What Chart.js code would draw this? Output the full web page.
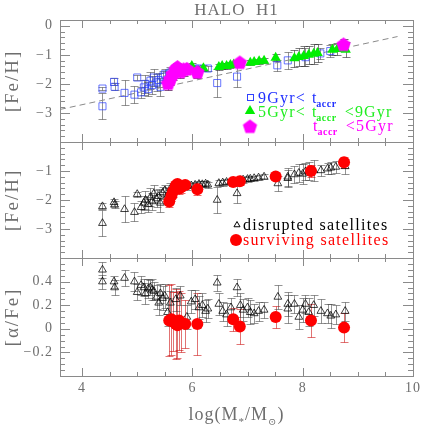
<!DOCTYPE html>
<html>
<head>
<meta charset="utf-8">
<script src="https://cdn.jsdelivr.net/npm/chart.js@4.4.1/dist/chart.umd.min.js"></script>
<style>
html, body { margin: 0; padding: 0; background: #fff; }
#wrap { position: relative; width: 436px; height: 436px; }
#wrap canvas { position: absolute; left: 0; top: 0; }
</style>
</head>
<body>
<div id="wrap">
    <canvas id="feh-age" width="436" height="436"></canvas>
    <canvas id="feh-type" width="436" height="436"></canvas>
    <canvas id="alpha-type" width="436" height="436"></canvas>
</div>
<script>
// ---- data ----
// panel 1: [Fe/H] vs log(M*/Msun), coloured by accretion time
const oldMass = [4.37, 4.37, 4.58, 4.59, 4.77, 4.95, 5.00, 5.07, 5.12, 5.15, 5.20, 5.24, 5.27, 5.30, 5.35, 5.39, 5.42, 5.46, 5.50, 5.55, 5.60, 5.80, 5.98, 6.05, 6.12, 6.28, 6.45, 6.81, 7.54, 7.73, 8.05, 8.32, 8.50];
const oldFeh = [-2.16, -2.77, -1.93, -2.10, -2.31, -2.37, -1.78, -2.29, -2.12, -2.00, -2.18, -1.89, -2.04, -1.78, -1.95, -1.87, -2.10, -1.75, -1.67, -1.85, -1.61, -1.55, -1.50, -1.48, -1.47, -1.47, -1.97, -1.75, -1.36, -1.19, -1.08, -0.95, -0.87];
const oldFehErr = [0.05, 0.45, 0.12, 0.12, 0.43, 0.30, 0.08, 0.20, 0.25, 0.30, 0.25, 0.30, 0.30, 0.30, 0.30, 0.25, 0.30, 0.20, 0.20, 0.25, 0.20, 0.15, 0.10, 0.10, 0.10, 0.10, 0.47, 0.35, 0.20, 0.30, 0.30, 0.20, 0.20];

const midMass = [5.63, 5.75, 5.99, 6.20, 6.48, 6.54, 6.62, 6.69, 6.75, 7.05, 7.12, 7.21, 7.30, 7.51, 7.85, 7.93, 8.02, 8.11, 8.20, 8.27, 8.54, 8.63, 8.78];
const midFeh = [-1.61, -1.48, -1.38, -1.46, -1.42, -1.38, -1.38, -1.35, -1.33, -1.27, -1.25, -1.22, -1.20, -1.10, -1.12, -1.07, -1.04, -1.00, -0.96, -0.94, -0.82, -0.80, -0.82];
const midFehErr = [0.15, 0.12, 0.10, 0.10, 0.10, 0.10, 0.10, 0.10, 0.10, 0.08, 0.08, 0.08, 0.08, 0.12, 0.30, 0.30, 0.35, 0.30, 0.35, 0.30, 0.20, 0.20, 0.25];

const youngMass = [5.56, 5.60, 5.64, 5.70, 5.73, 5.78, 5.84, 5.90, 6.09, 6.86, 8.74];
const youngFeh = [-2.00, -1.85, -1.68, -1.50, -1.44, -1.60, -1.52, -1.50, -1.61, -1.28, -0.66];
const youngFehErr = [0.20, 0.20, 0.20, 0.15, 0.15, 0.20, 0.20, 0.15, 0.20, 0.12, 0.20];

// dashed relation in panel 1
const fitMass = [3.6, 9.72];
const fitFeh = [-2.88, -0.37];

// panels 2 and 3: disrupted vs surviving satellites
const disruptedMass = [4.37, 4.37, 4.58, 4.59, 4.77, 4.95, 5.00, 5.07, 5.12, 5.15, 5.20, 5.24, 5.27, 5.30, 5.35, 5.39, 5.42, 5.46, 5.50, 5.55, 5.60, 5.70, 5.78, 5.90, 5.98, 6.05, 6.12, 6.18, 6.24, 6.28, 6.45, 6.48, 6.55, 6.62, 6.70, 6.81, 6.87, 6.92, 7.00, 7.05, 7.12, 7.20, 7.30, 7.55, 7.73, 7.73, 7.85, 7.93, 8.00, 8.05, 8.11, 8.20, 8.33, 8.45, 8.51, 8.60, 8.77];
const disruptedFeh = [-2.22, -2.80, -2.08, -2.17, -2.32, -2.42, -1.80, -2.25, -2.10, -2.00, -2.15, -1.90, -2.05, -1.78, -1.95, -1.87, -2.10, -1.75, -1.67, -1.85, -1.61, -1.50, -1.55, -1.52, -1.50, -1.48, -1.45, -1.46, -1.44, -1.47, -2.00, -1.42, -1.40, -1.38, -1.36, -1.77, -1.32, -1.30, -1.28, -1.27, -1.25, -1.23, -1.20, -1.43, -1.20, -1.25, -1.12, -1.07, -1.10, -1.02, -1.00, -0.98, -0.98, -0.92, -0.89, -0.86, -0.84];
const disruptedFehErr = [0.10, 0.45, 0.12, 0.12, 0.45, 0.30, 0.08, 0.20, 0.25, 0.30, 0.25, 0.30, 0.30, 0.30, 0.30, 0.25, 0.30, 0.20, 0.20, 0.25, 0.20, 0.15, 0.15, 0.12, 0.10, 0.10, 0.10, 0.10, 0.10, 0.10, 0.45, 0.10, 0.10, 0.10, 0.10, 0.35, 0.10, 0.10, 0.10, 0.08, 0.08, 0.08, 0.08, 0.25, 0.30, 0.30, 0.30, 0.30, 0.35, 0.30, 0.30, 0.35, 0.20, 0.20, 0.20, 0.20, 0.25];
const disruptedAlpha = [0.40, 0.50, 0.40, 0.35, 0.43, 0.40, 0.31, 0.37, 0.35, 0.30, 0.34, 0.35, 0.33, 0.32, 0.27, 0.22, 0.30, 0.26, 0.28, 0.14, 0.22, 0.25, 0.28, 0.10, 0.23, 0.25, 0.18, 0.20, 0.15, 0.17, 0.39, 0.21, 0.15, 0.12, 0.18, 0.35, 0.20, 0.16, 0.18, 0.14, 0.13, 0.15, 0.16, 0.27, 0.21, 0.17, 0.21, 0.10, 0.16, 0.21, 0.14, 0.20, 0.15, 0.13, 0.11, 0.12, 0.15];
const disruptedAlphaErr = [0.06, 0.07, 0.05, 0.06, 0.07, 0.08, 0.07, 0.08, 0.07, 0.09, 0.08, 0.06, 0.09, 0.08, 0.10, 0.10, 0.08, 0.10, 0.10, 0.12, 0.10, 0.10, 0.08, 0.10, 0.10, 0.08, 0.10, 0.10, 0.09, 0.08, 0.07, 0.09, 0.08, 0.10, 0.08, 0.07, 0.10, 0.09, 0.08, 0.10, 0.08, 0.08, 0.07, 0.10, 0.10, 0.12, 0.08, 0.10, 0.10, 0.08, 0.12, 0.09, 0.10, 0.08, 0.10, 0.08, 0.08];

const survivingMass = [5.58, 5.62, 5.65, 5.70, 5.73, 5.76, 5.80, 5.87, 6.09, 6.74, 6.86, 7.51, 8.15, 8.75];
const survivingFeh = [-2.05, -1.85, -1.70, -1.50, -1.45, -1.60, -1.55, -1.48, -1.63, -1.38, -1.35, -1.19, -1.00, -0.70];
const survivingFehErr = [0.20, 0.20, 0.20, 0.15, 0.15, 0.20, 0.20, 0.15, 0.20, 0.10, 0.12, 0.12, 0.20, 0.20];
const survivingAlpha = [0.07, 0.08, 0.06, 0.04, 0.03, 0.07, 0.05, 0.04, 0.04, 0.08, 0.02, 0.10, 0.07, 0.01];
const survivingAlphaErr = [0.30, 0.30, 0.25, 0.30, 0.28, 0.25, 0.25, 0.20, 0.26, 0.10, 0.15, 0.09, 0.14, 0.12];

// ---- styling helpers ----
const AXIS_GREY = '#8a8a8a';
const TEXT_GREY = '#6e6e6e';
const SERIF = '"Liberation Serif", "DejaVu Serif", serif';

function toPoints(xs, ys) {
    return xs.map((x, i) => ({ x: x, y: ys[i] }));
}

// filled pentagon sprite for the youngest accretion group
function makePentagon(r, color) {
    const c = document.createElement('canvas');
    const s = Math.ceil(2 * r + 2);
    c.width = s;
    c.height = s;
    const g = c.getContext('2d');
    g.fillStyle = color;
    g.beginPath();
    for (let k = 0; k < 5; k++) {
        const ang = -Math.PI / 2 + k * 2 * Math.PI / 5;
        const px = s / 2 + r * Math.cos(ang);
        const py = s / 2 + r * Math.sin(ang);
        if (k === 0) g.moveTo(px, py); else g.lineTo(px, py);
    }
    g.closePath();
    g.fill();
    return c;
}
const pentagon = makePentagon(7.5, '#ff00ff');

// error bars, drawn under the markers
const errorBarPlugin = {
    id: 'errorBars',
    beforeDatasetsDraw(chart) {
        const { ctx, chartArea: a } = chart;
        ctx.save();
        ctx.beginPath();
        ctx.rect(a.left, a.top, a.right - a.left, a.bottom - a.top);
        ctx.clip();
        chart.data.datasets.forEach(ds => {
            if (!ds.errors) return;
            const xs = chart.scales.x;
            const ys = chart.scales.y;
            ctx.strokeStyle = ds.errorColor;
            ctx.lineWidth = 1;
            ds.data.forEach((p, i) => {
                const e = ds.errors[i];
                if (!e) return;
                const px = Math.round(xs.getPixelForValue(p.x)) + 0.5;
                const top = Math.round(ys.getPixelForValue(p.y + e)) + 0.5;
                const bot = Math.round(ys.getPixelForValue(p.y - e)) + 0.5;
                ctx.beginPath();
                ctx.moveTo(px, top); ctx.lineTo(px, bot);
                ctx.moveTo(px - 4, top); ctx.lineTo(px + 4, top);
                ctx.moveTo(px - 4, bot); ctx.lineTo(px + 4, bot);
                ctx.stroke();
            });
        });
        ctx.restore();
    }
};

function fmt(v) {
    const s = Math.abs(v) < 1e-9 ? '0' : String(+v.toFixed(2));
    return s.replace('-', '\u2212');
}

// frame with inward ticks on all sides, tick labels and titles
const framePlugin = {
    id: 'frame',
    afterDatasetsDraw(chart, args, o) {
        const { ctx, chartArea: a, scales: { x, y } } = chart;
        ctx.save();
        ctx.strokeStyle = AXIS_GREY;
        ctx.lineWidth = 1;
        ctx.strokeRect(Math.round(a.left) + 0.5, Math.round(a.top) + 0.5, Math.round(a.right - a.left), Math.round(a.bottom - a.top));

        ctx.beginPath();
        for (let v = 4; v <= x.max + 1e-9; v += 0.5) {
            const px = Math.round(x.getPixelForValue(v)) + 0.5;
            const major = Math.abs(v / 2 - Math.round(v / 2)) < 1e-6;
            const len = major ? 8 : 4;
            ctx.moveTo(px, a.top); ctx.lineTo(px, a.top + len);
            ctx.moveTo(px, a.bottom); ctx.lineTo(px, a.bottom - len);
        }
        const start = Math.ceil(y.min / o.yMinor - 1e-6) * o.yMinor;
        for (let v = start; v <= y.max + 1e-9; v += o.yMinor) {
            const py = Math.round(y.getPixelForValue(v)) + 0.5;
            const r = v / o.yMajor;
            const major = Math.abs(r - Math.round(r)) < 1e-6;
            const len = major ? 10 : 5;
            ctx.moveTo(a.left, py); ctx.lineTo(a.left + len, py);
            ctx.moveTo(a.right, py); ctx.lineTo(a.right - len, py);
        }
        ctx.stroke();

        ctx.fillStyle = TEXT_GREY;
        ctx.font = '14px ' + SERIF;
        ctx.letterSpacing = '1px';
        ctx.textAlign = 'right';
        ctx.textBaseline = 'middle';
        o.yLabels.forEach(v => {
            ctx.fillText(fmt(v), a.left - 7, y.getPixelForValue(v));
        });

        if (o.xLabels) {
            ctx.textAlign = 'center';
            ctx.textBaseline = 'top';
            o.xLabels.forEach(v => ctx.fillText(fmt(v), x.getPixelForValue(v), a.bottom + 5));
        }

        // y axis title, rotated
        ctx.save();
        ctx.translate(13, (a.top + a.bottom) / 2);
        ctx.rotate(-Math.PI / 2);
        ctx.font = '19px ' + SERIF;
        ctx.letterSpacing = '2px';
        ctx.textAlign = 'center';
        ctx.textBaseline = 'middle';
        ctx.fillText(o.yTitle, 0, 0);
        ctx.restore();

        if (o.title) {
            ctx.font = '17px ' + SERIF;
            ctx.letterSpacing = '1px';
            ctx.textAlign = 'center';
            ctx.textBaseline = 'bottom';
            ctx.fillText(o.title, (a.left + a.right) / 2, a.top - 1);
        }

        if (o.xTitle) {
            // log(M*/M⊙) with subscripts
            const parts = [['log(M', 18, 0], ['*', 11, 5], ['/M', 18, 0], ['\u2299', 10, 5], [')', 18, 0]];
            ctx.letterSpacing = '1px';
            let w = 0;
            parts.forEach(p => { ctx.font = p[1] + 'px ' + SERIF; w += ctx.measureText(p[0]).width; });
            let cx = (a.left + a.right) / 2 - w / 2;
            const base = a.bottom + 44;
            ctx.textAlign = 'left';
            ctx.textBaseline = 'alphabetic';
            parts.forEach(p => {
                ctx.font = p[1] + 'px ' + SERIF;
                ctx.fillText(p[0], cx, base + p[2]);
                cx += ctx.measureText(p[0]).width;
            });
        }

        if (o.legend) o.legend(ctx, x, y, a);
        ctx.restore();
    }
};

function drawTriangle(ctx, cx, cy, r, fill, stroke) {
    ctx.beginPath();
    ctx.moveTo(cx, cy - r);
    ctx.lineTo(cx + r * 0.87, cy + r * 0.5);
    ctx.lineTo(cx - r * 0.87, cy + r * 0.5);
    ctx.closePath();
    if (fill) { ctx.fillStyle = fill; ctx.fill(); }
    if (stroke) { ctx.strokeStyle = stroke; ctx.stroke(); }
}

// text with "t_accr" subscript pieces
function drawRich(ctx, pieces, x0, base, color) {
    let cx = x0;
    ctx.fillStyle = color;
    ctx.textAlign = 'left';
    ctx.textBaseline = 'alphabetic';
    pieces.forEach(p => {
        ctx.font = (p.bold ? 'bold ' : '') + p.size + 'px ' + SERIF;
        ctx.letterSpacing = (p.ls || 0) + 'px';
        ctx.fillText(p.t, cx, base + (p.dy || 0));
        cx += ctx.measureText(p.t).width + (p.gap || 0);
    });
}

function ageLegend(ctx) {
    ctx.lineWidth = 1;
    ctx.strokeStyle = '#3040ff';
    ctx.strokeRect(247.5, 94.5, 6, 6);
    drawRich(ctx, [{ t: '9Gyr<', size: 16, ls: 1.2, gap: 6 }, { t: 't', size: 16 }, { t: 'accr', size: 10, bold: true, dy: 4, ls: 0.5 }], 258, 103, '#2030ff');
    drawTriangle(ctx, 250, 111, 6, '#00ee00');
    drawRich(ctx, [{ t: '5Gyr<', size: 16, ls: 1.2, gap: 6 }, { t: 't', size: 16 }, { t: 'accr', size: 10, bold: true, dy: 4, ls: 0.5, gap: 8 }, { t: '<9Gyr', size: 16, ls: 1.2 }], 258, 117, '#22ee22');
    ctx.drawImage(pentagon, 250 - pentagon.width / 2, 127 - pentagon.height / 2);
    drawRich(ctx, [{ t: 't', size: 16 }, { t: 'accr', size: 10, bold: true, dy: 4, ls: 0.5, gap: 8 }, { t: '<5Gyr', size: 16, ls: 1.2 }], 313, 131, '#ff00ff');
}

function typeLegend(ctx) {
    ctx.lineWidth = 1;
    drawTriangle(ctx, 237, 225, 3.5, null, '#000');
    drawRich(ctx, [{ t: 'disrupted satellites', size: 16, ls: 1.3 }], 243, 230, '#000');
    ctx.beginPath();
    ctx.arc(236, 240, 6, 0, 2 * Math.PI);
    ctx.fillStyle = '#ff0000';
    ctx.fill();
    drawRich(ctx, [{ t: 'surviving satellites', size: 16, ls: 1.3 }], 243, 245, '#ff0000');
}

const xScale = { type: 'linear', min: 3.6, max: 10, display: false };

function makeChart(id, padding, yMin, yMax, datasets, frame) {
    const ctx = document.getElementById(id).getContext('2d');
    return new Chart(ctx, {
        type: 'scatter',
        data: { datasets: datasets },
        options: {
            responsive: false,
            animation: false,
            events: [],
            layout: { padding: padding },
            plugins: { legend: { display: false }, tooltip: { enabled: false }, frame: frame },
            scales: {
                x: xScale,
                y: { type: 'linear', min: yMin, max: yMax, display: false }
            }
        },
        plugins: [errorBarPlugin, framePlugin]
    });
}

// panel 1
makeChart('feh-age', { top: 20, bottom: 294, left: 60, right: 23 }, -4, 0.2, [
    {
        data: toPoints(youngMass, youngFeh), errors: youngFehErr, errorColor: 'rgba(40,40,40,0.7)',
        pointStyle: pentagon, pointRadius: 7
    },
    {
        data: toPoints(midMass, midFeh), errors: midFehErr, errorColor: 'rgba(40,40,40,0.6)',
        pointStyle: 'triangle', pointRadius: 6, backgroundColor: '#00ee00', borderColor: '#00ee00', borderWidth: 0
    },
    {
        data: toPoints(oldMass, oldFeh), errors: oldFehErr, errorColor: 'rgba(60,60,60,0.55)',
        pointStyle: 'rect', pointRadius: 5, backgroundColor: 'rgba(0,0,0,0)', borderColor: 'rgba(40,60,255,0.7)', borderWidth: 1
    },
    {
        type: 'line', data: toPoints(fitMass, fitFeh), showLine: true, pointRadius: 0,
        borderColor: '#8a8a8a', borderWidth: 1, borderDash: [6, 4]
    }
], { yMajor: 1, yMinor: 0.2, yLabels: [0, -1, -2, -3], yTitle: '[Fe/H]', title: 'HALO  H1', legend: ageLegend });

// panel 2
makeChart('feh-type', { top: 142, bottom: 178, left: 60, right: 23 }, -4, 0, [
    {
        data: toPoints(survivingMass, survivingFeh), errors: survivingFehErr, errorColor: 'rgba(230,0,0,0.6)',
        pointStyle: 'circle', pointRadius: 6, backgroundColor: '#ff0000', borderWidth: 0
    },
    {
        data: toPoints(disruptedMass, disruptedFeh), errors: disruptedFehErr, errorColor: 'rgba(60,60,60,0.55)',
        pointStyle: 'triangle', pointRadius: 4.5, backgroundColor: 'rgba(0,0,0,0)', borderColor: 'rgba(0,0,0,0.75)', borderWidth: 1
    }
], { yMajor: 1, yMinor: 0.2, yLabels: [-1, -2, -3], yTitle: '[Fe/H]', legend: typeLegend });

// panel 3
makeChart('alpha-type', { top: 258, bottom: 60, left: 60, right: 23 }, -0.4, 0.6, [
    {
        data: toPoints(survivingMass, survivingAlpha), errors: survivingAlphaErr, errorColor: 'rgba(200,0,0,0.55)',
        pointStyle: 'circle', pointRadius: 6, backgroundColor: '#ff0000', borderWidth: 0
    },
    {
        data: toPoints(disruptedMass, disruptedAlpha), errors: disruptedAlphaErr, errorColor: 'rgba(60,60,60,0.55)',
        pointStyle: 'triangle', pointRadius: 4.5, backgroundColor: 'rgba(0,0,0,0)', borderColor: 'rgba(0,0,0,0.75)', borderWidth: 1
    }
], { yMajor: 0.2, yMinor: 0.05, yLabels: [0.4, 0.2, 0, -0.2], yTitle: '[\u03b1/Fe]', xLabels: [4, 6, 8, 10], xTitle: true });
</script>
</body>
</html>
